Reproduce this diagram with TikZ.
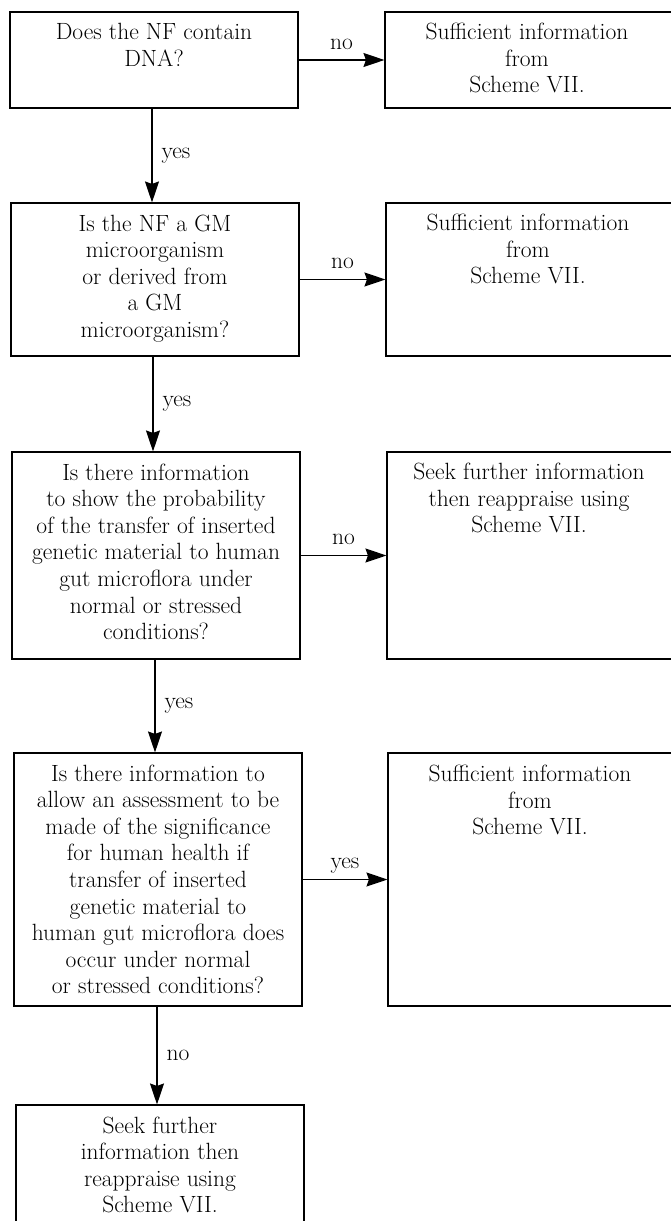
\documentclass[tikz,border=0pt]{standalone}
\usetikzlibrary{arrows.meta,calc}
\begin{document}
\begin{tikzpicture}[x=1pt,y=-1pt,
  frame/.style={draw, line width=1.1pt, rectangle, inner sep=0pt},
  txt/.style={align=center, inner sep=0pt, anchor=north,
    font=\fontsize{23.5}{26.6}\selectfont},
  lbl/.style={inner sep=0pt, font=\fontsize{23.5}{26.6}\selectfont},
  arr/.style={line width=1.2pt,
    -{Stealth[length=21pt,width=14pt,inset=2.5pt]}}]
\useasboundingbox (0,0) rectangle (670,1221);

% left column: questions
\node[frame, minimum width=288pt, minimum height=96pt]  (q1) at (154,60)    {};
\node[frame, minimum width=288pt, minimum height=153pt] (q2) at (155,279.5) {};
\node[frame, minimum width=288pt, minimum height=207pt] (q3) at (156,555.5) {};
\node[frame, minimum width=288pt, minimum height=253pt] (q4) at (158,879.5) {};
\node[frame, minimum width=288pt, minimum height=135pt] (q5) at (160,1172.5) {};

% right column: outcomes (run off the right edge)
\node[frame, minimum width=290pt, minimum height=96pt]  (r1) at (530,60)    {};
\node[frame, minimum width=290pt, minimum height=153pt] (r2) at (531,279.5) {};
\node[frame, minimum width=290pt, minimum height=207pt] (r3) at (532,555.5) {};
\node[frame, minimum width=290pt, minimum height=253pt] (r4) at (533,879.5) {};

% texts
\node[txt] (t1) at ($(q1.north)+(0,12)$) {Does the NF contain\\DNA?};
\node[txt] (t2) at ($(q2.north)+(0,12)$) {Is the NF a GM\\microorganism\\or derived from\\a GM\\microorganism?};
\node[txt] (t3) at ($(q3.north)+(0,12)$) {Is there information\\to show the probability\\of the transfer of inserted\\genetic material to human\\gut microflora under\\normal or stressed\\conditions?};
\node[txt] (t4) at ($(q4.north)+(0,12)$) {Is there information to\\allow an assessment to be\\made of the significance\\for human health if\\transfer of inserted\\genetic material to\\human gut microflora does\\occur under normal\\or stressed conditions?};
\node[txt] (t5) at ($(q5.north)+(0,12)$) {Seek further\\information then\\reappraise using\\Scheme VII.};

\node[txt] (u1) at (527,23) {Sufficient information\\from\\Scheme VII.};
\node[txt] (u2) at (528,214) {Sufficient information\\from\\Scheme VII.};
\node[txt] (u3) at (529,463) {Seek further information\\then reappraise using\\Scheme VII.};
\node[txt] (u4) at (530,765) {Sufficient information\\from\\Scheme VII.};

% horizontal connectors
\draw[arr] (q1.east) -- (r1.west) node[lbl, midway, anchor=base, yshift=11pt] (h1) {no};
\draw[arr] (q2.east) -- (r2.west) node[lbl, midway, anchor=base, yshift=11pt] (h2) {no};
\draw[arr] (q3.east) -- (r3.west) node[lbl, midway, anchor=base, yshift=11pt] (h3) {no};
\draw[arr] (q4.east) -- (r4.west) node[lbl, midway, anchor=base, yshift=11pt] (h4) {yes};

% vertical connectors
\draw[arr] ([xshift=-2pt]q1.south) -- ([xshift=-2pt]q1.south |- q2.north) node[lbl, midway, anchor=west, xshift=9pt] (v1) {yes};
\draw[arr] ([xshift=-2pt]q2.south) -- ([xshift=-2pt]q2.south |- q3.north) node[lbl, midway, anchor=west, xshift=9pt] (v2) {yes};
\draw[arr] ([xshift=-1pt]q3.south) -- ([xshift=-1pt]q3.south |- q4.north) node[lbl, midway, anchor=west, xshift=9pt] (v3) {yes};
\draw[arr] ([xshift=-1pt]q4.south) -- ([xshift=-1pt]q4.south |- q5.north) node[lbl, midway, anchor=west, xshift=9pt] (v4) {no};
\end{tikzpicture}
\end{document}
